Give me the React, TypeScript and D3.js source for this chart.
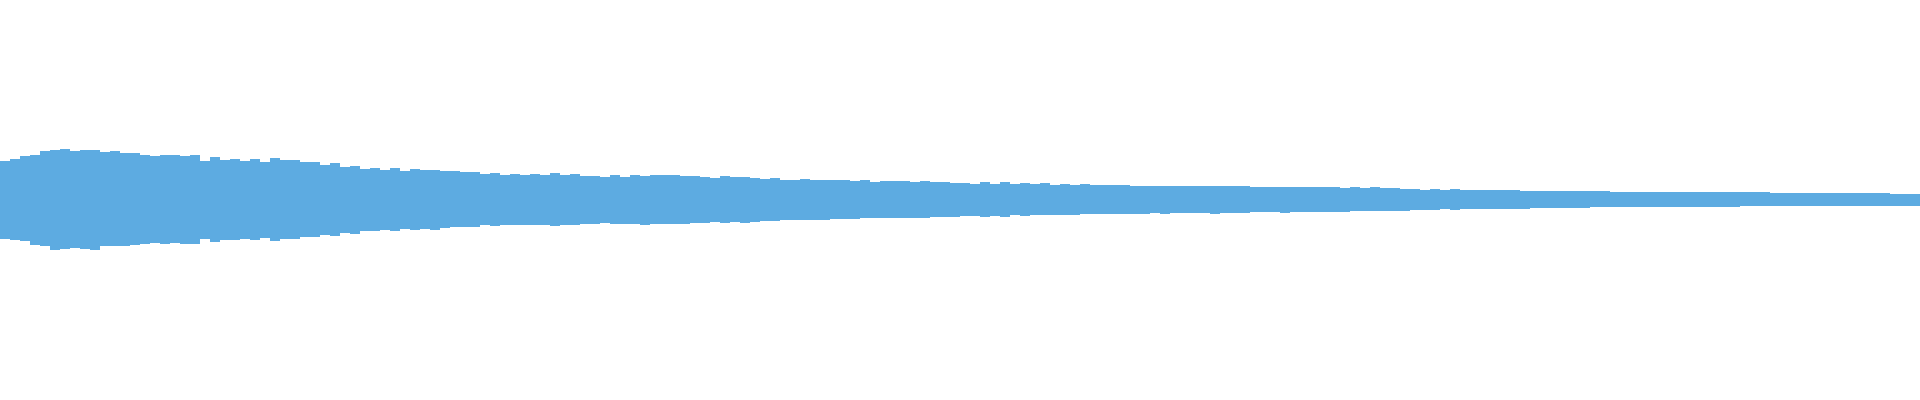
import React, { useEffect, useRef } from 'react';
import * as d3 from 'd3';

// waveform peaks, one bucket per 10px column, normalised to [-1, 1]
const maxPeaks: number[] = [
  0.197, 0.207, 0.219, 0.227, 0.244, 0.252, 0.255, 0.244, 0.249, 0.252,
  0.240, 0.244, 0.235, 0.235, 0.224, 0.219, 0.224, 0.224, 0.222, 0.224,
  0.197, 0.215, 0.202, 0.205, 0.197, 0.207, 0.190, 0.210, 0.199, 0.199,
  0.190, 0.190, 0.174, 0.184, 0.165, 0.169, 0.157, 0.160, 0.152, 0.160,
  0.147, 0.155, 0.149, 0.152, 0.144, 0.144, 0.139, 0.140, 0.129, 0.134,
  0.127, 0.130, 0.127, 0.130, 0.124, 0.134, 0.124, 0.129, 0.120, 0.120,
  0.117, 0.124, 0.117, 0.124, 0.122, 0.124, 0.127, 0.124, 0.120, 0.119,
  0.114, 0.112, 0.119, 0.114, 0.115, 0.110, 0.105, 0.109, 0.102, 0.100,
  0.105, 0.100, 0.100, 0.099, 0.100, 0.094, 0.099, 0.092, 0.095, 0.094,
  0.094, 0.089, 0.094, 0.089, 0.090, 0.087, 0.085, 0.082, 0.089, 0.082,
  0.089, 0.080, 0.084, 0.080, 0.084, 0.077, 0.079, 0.075, 0.079, 0.075,
  0.075, 0.075, 0.074, 0.072, 0.070, 0.072, 0.069, 0.072, 0.069, 0.069,
  0.069, 0.069, 0.069, 0.070, 0.069, 0.067, 0.067, 0.065, 0.067, 0.067,
  0.067, 0.065, 0.064, 0.064, 0.062, 0.064, 0.060, 0.064, 0.059, 0.059,
  0.055, 0.055, 0.052, 0.054, 0.050, 0.054, 0.050, 0.049, 0.049, 0.049,
  0.049, 0.049, 0.047, 0.044, 0.044, 0.044, 0.044, 0.044, 0.044, 0.045,
  0.044, 0.042, 0.042, 0.042, 0.042, 0.040, 0.040, 0.040, 0.040, 0.039,
  0.040, 0.039, 0.040, 0.040, 0.040, 0.039, 0.039, 0.037, 0.037, 0.037,
  0.037, 0.037, 0.035, 0.035, 0.035, 0.035, 0.035, 0.034, 0.034, 0.032,
  0.032, 0.032,
];

const minPeaks: number[] = [
  -0.194, -0.199, -0.207, -0.224, -0.232, -0.249, -0.245, -0.240, -0.245, -0.249,
  -0.232, -0.232, -0.232, -0.224, -0.220, -0.215, -0.220, -0.215, -0.220, -0.220,
  -0.194, -0.212, -0.199, -0.199, -0.194, -0.199, -0.190, -0.207, -0.195, -0.194,
  -0.187, -0.187, -0.174, -0.180, -0.165, -0.169, -0.157, -0.157, -0.152, -0.157,
  -0.144, -0.149, -0.145, -0.149, -0.140, -0.137, -0.135, -0.135, -0.126, -0.129,
  -0.127, -0.127, -0.124, -0.127, -0.127, -0.129, -0.124, -0.124, -0.120, -0.119,
  -0.115, -0.119, -0.119, -0.120, -0.124, -0.120, -0.120, -0.119, -0.119, -0.117,
  -0.114, -0.110, -0.114, -0.112, -0.114, -0.109, -0.104, -0.104, -0.099, -0.100,
  -0.102, -0.099, -0.099, -0.095, -0.097, -0.094, -0.092, -0.092, -0.090, -0.090,
  -0.090, -0.089, -0.089, -0.087, -0.085, -0.084, -0.082, -0.080, -0.084, -0.080,
  -0.084, -0.077, -0.082, -0.077, -0.077, -0.075, -0.077, -0.074, -0.072, -0.070,
  -0.072, -0.072, -0.070, -0.069, -0.069, -0.067, -0.069, -0.067, -0.067, -0.065,
  -0.065, -0.069, -0.064, -0.067, -0.064, -0.062, -0.062, -0.060, -0.064, -0.060,
  -0.060, -0.059, -0.059, -0.060, -0.059, -0.057, -0.057, -0.057, -0.055, -0.054,
  -0.054, -0.052, -0.049, -0.049, -0.045, -0.049, -0.047, -0.045, -0.044, -0.044,
  -0.044, -0.044, -0.044, -0.042, -0.040, -0.040, -0.040, -0.040, -0.040, -0.037,
  -0.037, -0.037, -0.037, -0.037, -0.037, -0.037, -0.037, -0.037, -0.037, -0.035,
  -0.035, -0.035, -0.035, -0.034, -0.032, -0.032, -0.032, -0.030, -0.030, -0.030,
  -0.030, -0.030, -0.030, -0.030, -0.030, -0.030, -0.030, -0.030, -0.030, -0.029,
  -0.029, -0.029,
];

const WAVE_COLOR = '#5dabe1';

const Waveform: React.FC<{ width?: number; height?: number }> = ({
  width = 1920,
  height = 400,
}) => {
  const svgRef = useRef<SVGSVGElement>(null);

  useEffect(() => {
    if (!svgRef.current) return;
    const svg = d3.select(svgRef.current);
    svg.selectAll('*').remove();

    const n = maxPeaks.length;
    // extra bucket at the end so the last step reaches the right edge
    const points = d3.range(n + 1).map((i) => ({
      i,
      max: maxPeaks[Math.min(i, n - 1)],
      min: minPeaks[Math.min(i, n - 1)],
    }));

    const xScale = d3.scaleLinear().domain([0, n]).range([0, width]);
    const yScale = d3.scaleLinear().domain([-1, 1]).range([height, 0]);

    const area = d3
      .area<{ i: number; max: number; min: number }>()
      .x((d) => xScale(d.i))
      .y0((d) => yScale(d.min))
      .y1((d) => yScale(d.max))
      .curve(d3.curveStepAfter);

    svg
      .append('path')
      .datum(points)
      .attr('fill', WAVE_COLOR)
      .attr('shape-rendering', 'crispEdges')
      .attr('d', area);
  }, [width, height]);

  return <svg ref={svgRef} width={width} height={height} style={{ display: 'block' }} />;
};

export default function App() {
  return (
    <div style={{ position: 'fixed', left: 0, top: 0, background: '#fff' }}>
      <Waveform />
    </div>
  );
}
